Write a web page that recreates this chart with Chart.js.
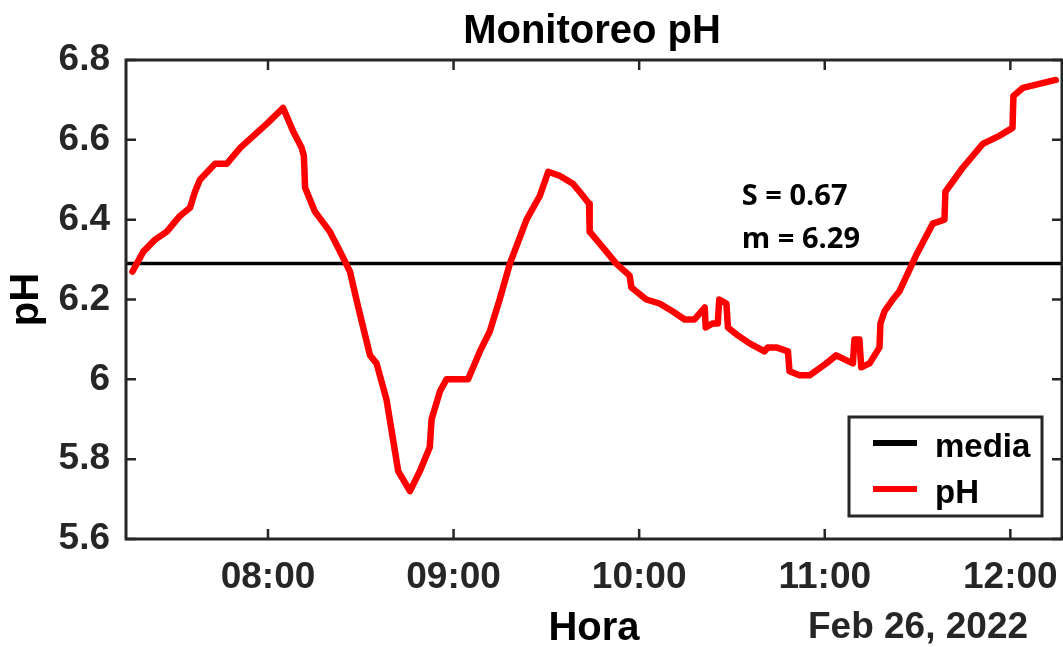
<!DOCTYPE html>
<html>
<head>
<meta charset="utf-8">
<style>
  * { margin: 0; padding: 0; box-sizing: border-box; }
  body { background: #ffffff; }
  #grafico { display: block; }
</style>
</head>
<body>
<canvas id="grafico" width="1063" height="647"></canvas>

<script src="https://cdn.jsdelivr.net/npm/chart.js/dist/chart.umd.min.js"></script>
<script>
// hora de cada lectura, en minutos desde la medianoche (26 feb 2022)
const hora = [
  436.2, 439.7, 443.5, 447.3, 451.6, 454.8, 456.4, 458.0, 462.9, 466.7,
  471.0, 475.3, 479.6, 484.9, 488.2, 490.9, 491.6, 492.0, 495.2, 500.0,
  503.3, 506.5, 509.2, 513.0, 515.1, 518.3, 522.1, 525.9, 529.1, 532.3,
  532.9, 535.6, 537.7, 544.7, 548.5, 551.7, 554.9, 558.2, 563.6, 567.9,
  570.6, 574.3, 578.6, 581.8, 583.8, 584.0, 589.4, 592.6, 596.9, 597.5,
  602.3, 606.6, 610.9, 614.7, 617.9, 621.2, 621.5, 623.8, 625.4, 625.9,
  628.2, 628.7, 631.9, 635.7, 640.5, 641.6, 644.3, 648.1, 648.6, 651.8,
  655.1, 660.5, 663.7, 669.1, 669.6, 671.2, 671.8, 674.5, 677.7, 678.0,
  679.3, 682.0, 684.1, 689.5, 694.9, 698.7, 699.0, 704.6, 711.1, 716.4,
  720.7, 721.0, 724.0, 734.7
];
const ph = [
  6.27, 6.32, 6.35, 6.37, 6.41, 6.43, 6.47, 6.50, 6.54, 6.54,
  6.58, 6.61, 6.64, 6.68, 6.62, 6.58, 6.56, 6.48, 6.42, 6.37,
  6.32, 6.27, 6.18, 6.06, 6.04, 5.95, 5.77, 5.72, 5.77, 5.83,
  5.90, 5.97, 6.00, 6.00, 6.07, 6.12, 6.20, 6.29, 6.40, 6.46,
  6.52, 6.51, 6.49, 6.46, 6.44, 6.37, 6.32, 6.29, 6.26, 6.23,
  6.20, 6.19, 6.17, 6.15, 6.15, 6.18, 6.13, 6.14, 6.14, 6.20,
  6.19, 6.13, 6.11, 6.09, 6.07, 6.08, 6.08, 6.07, 6.02, 6.01,
  6.01, 6.04, 6.06, 6.04, 6.10, 6.10, 6.03, 6.04, 6.08, 6.14,
  6.17, 6.20, 6.22, 6.31, 6.39, 6.40, 6.47, 6.53, 6.59, 6.61,
  6.63, 6.71, 6.73, 6.75
];
const media = 6.29;
const desv = 0.67;

const xMin = 434.1, xMax = 736.7;
const horasTicks = [480, 540, 600, 660, 720];
const phTicks = [5.6, 5.8, 6.0, 6.2, 6.4, 6.6, 6.8];

const gris = '#262626';
const fuente = '"Liberation Sans", Arial, sans-serif';

const hhmm = m => String(Math.floor(m / 60)).padStart(2, '0') + ':' + String(Math.round(m % 60)).padStart(2, '0');

// marco con marcas hacia dentro, titulo, leyenda y textos
const marco = {
  id: 'marco',
  afterDatasetsDraw(chart) {
    const { ctx, chartArea: a, scales: { x, y } } = chart;
    ctx.save();
    ctx.strokeStyle = gris;
    ctx.lineWidth = 3;
    ctx.strokeRect(a.left, a.top, a.right - a.left, a.bottom - a.top);
    ctx.lineWidth = 2.5;
    ctx.beginPath();
    x.ticks.forEach(t => {
      const px = x.getPixelForValue(t.value);
      ctx.moveTo(px, a.bottom); ctx.lineTo(px, a.bottom - 10);
      ctx.moveTo(px, a.top); ctx.lineTo(px, a.top + 10);
    });
    y.ticks.forEach(t => {
      const py = y.getPixelForValue(t.value);
      ctx.moveTo(a.left, py); ctx.lineTo(a.left + 10, py);
      ctx.moveTo(a.right, py); ctx.lineTo(a.right - 10, py);
    });
    ctx.stroke();

    // titulo
    ctx.fillStyle = '#000';
    ctx.font = 'bold 40px ' + fuente;
    ctx.textAlign = 'center';
    ctx.textBaseline = 'alphabetic';
    ctx.fillText('Monitoreo pH', (a.left + a.right) / 2 - 2, 43);

    // fecha bajo el eje
    ctx.fillStyle = gris;
    ctx.font = 'bold 37px ' + fuente;
    ctx.fillText('Feb 26, 2022', 918, 638);

    // estadisticos
    ctx.fillStyle = '#000';
    ctx.font = 'bold 29px "Open Sans", sans-serif';
    ctx.textAlign = 'left';
    const ax = x.getPixelForValue(633.2);
    ctx.fillText('S = ' + desv.toFixed(2), ax, y.getPixelForValue(6.437));
    ctx.fillText('m = ' + media.toFixed(2), ax, y.getPixelForValue(6.329));

    // leyenda
    const lx = a.right - 213, ly = a.bottom - 122;
    ctx.fillStyle = '#fff';
    ctx.fillRect(lx, ly, 193, 99);
    ctx.strokeStyle = gris;
    ctx.lineWidth = 3;
    ctx.strokeRect(lx, ly, 193, 99);
    const items = [chart.data.datasets[1], chart.data.datasets[0]];
    ctx.font = 'bold 33px ' + fuente;
    items.forEach((ds, i) => {
      const yy = ly + 26 + i * 46;
      ctx.strokeStyle = ds.borderColor;
      ctx.lineWidth = 6;
      ctx.beginPath();
      ctx.moveTo(lx + 24, yy); ctx.lineTo(lx + 68, yy);
      ctx.stroke();
      ctx.fillStyle = '#000';
      ctx.fillText(ds.label, lx + 86, yy + 14);
    });
    ctx.restore();
  }
};

new Chart(document.getElementById('grafico'), {
  type: 'line',
  data: {
    datasets: [
      {
        label: 'pH',
        data: hora.map((h, i) => ({ x: h, y: ph[i] })),
        borderColor: '#ff0000',
        borderWidth: 6.5,
        pointRadius: 0,
        tension: 0,
        borderJoinStyle: 'round',
        borderCapStyle: 'round',
        order: 0
      },
      {
        label: 'media',
        data: [{ x: xMin, y: media }, { x: xMax, y: media }],
        borderColor: '#000000',
        borderWidth: 3.5,
        pointRadius: 0,
        order: 1
      }
    ]
  },
  options: {
    responsive: false,
    animation: false,
    layout: { padding: { top: 60, right: 1, left: 0, bottom: 0 } },
    plugins: {
      legend: { display: false },
      tooltip: { enabled: false },
      title: { display: false }
    },
    scales: {
      x: {
        type: 'linear',
        min: xMin,
        max: xMax,
        grid: { display: false, drawTicks: false },
        border: { display: false },
        afterBuildTicks: s => { s.ticks = horasTicks.map(v => ({ value: v })); },
        afterFit: s => { s.height = 108; s.paddingLeft = 0; s.paddingRight = 0; },
        ticks: {
          padding: 17,
          maxRotation: 0,
          color: gris,
          font: { family: fuente, size: 37, weight: 'bold' },
          callback: v => hhmm(v)
        },
        title: {
          display: true,
          text: 'Hora',
          color: '#000',
          padding: 0,
          font: { family: fuente, size: 40, weight: 'bold', lineHeight: 0.88 }
        }
      },
      y: {
        min: 5.6,
        max: 6.8,
        grid: { display: false, drawTicks: false },
        border: { display: false },
        afterBuildTicks: s => { s.ticks = phTicks.map(v => ({ value: v })); },
        afterFit: s => { s.width = 126; s.paddingTop = 0; s.paddingBottom = 0; },
        ticks: {
          padding: 16,
          color: gris,
          font: { family: fuente, size: 37, weight: 'bold' },
          callback: v => String(Number(v.toFixed(1)))
        },
        title: {
          display: true,
          text: 'pH',
          color: '#000',
          padding: { top: 3 },
          font: { family: fuente, size: 40, weight: 'bold' }
        }
      }
    }
  },
  plugins: [marco]
});
</script>
</body>
</html>
